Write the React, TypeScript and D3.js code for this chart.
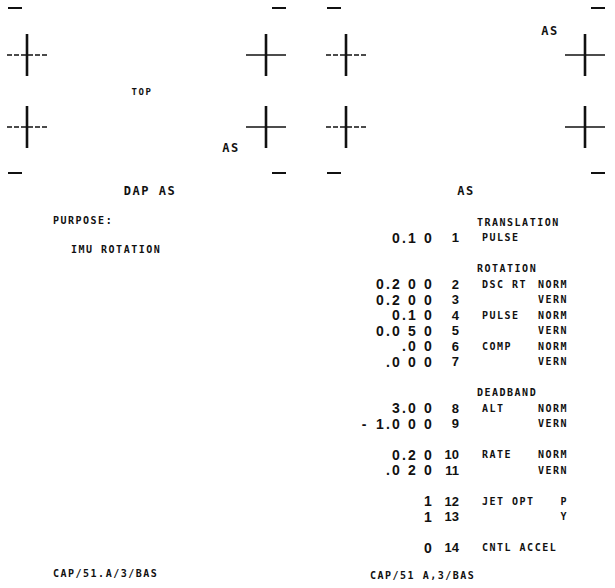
import * as d3 from 'd3'

// register listing
const rowNumbers = [1, 2, 3, 4, 5, 6, 7, 8, 9, 10, 11, 12, 13, 14]
const rowValues = ['0.10', '0.200', '0.200', '0.10', '0.050', '.00', '.000', '3.00', '-1.000', '0.20', '.020', '1', '1', '0']
const rowLabels = ['PULSE', 'DSC RT', '', 'PULSE', '', 'COMP', '', 'ALT', '', 'RATE', '', 'JET OPT', '', 'CNTL ACCEL']
const rowModes = ['', 'NORM', 'VERN', 'NORM', 'VERN', 'NORM', 'VERN', 'NORM', 'VERN', 'NORM', 'VERN', 'P', 'Y', '']
const groupHeaders = ['TRANSLATION', 'ROTATION', 'DEADBAND', '', '', '']
const groupSizes = [1, 6, 2, 2, 2, 1]

const panelTitles = ['DAP AS', 'AS']
const panelMarks = ['AS', 'AS']
const footers = ['CAP/51.A/3/BAS', 'CAP/51 A,3/BAS']
const purposeLines = ['PURPOSE:', 'IMU ROTATION']

const W = 615
const H = 588
const ink = '#111'
const mono = "'DejaVu Sans Mono', monospace"
const narrow = "'Liberation Sans Narrow', 'Liberation Sans', sans-serif"

// layout scales
const panelX = d3.scaleOrdinal<number, number>().domain([0, 1]).range([0, 319])
const colX = d3.scaleOrdinal<number, number>().domain([0, 1]).range([27, 266])
const crossY = d3.scaleOrdinal<number, number>().domain([0, 1]).range([55, 127])
const lineY = d3.scaleLinear().domain([0, 1]).range([222, 237.5])
const digitX = d3.scaleLinear().domain([0, 1]).range([428, 412])

function layoutRows() {
  let line = 0
  let r = 0
  const headers: {text: string, line: number}[] = []
  const rows: {i: number, line: number}[] = []
  groupSizes.forEach((n, gi) => {
    if (gi > 0) line += 1
    if (groupHeaders[gi]) {
      headers.push({text: groupHeaders[gi], line: line})
      line++
    }
    for (let k = 0; k < n; k++) {
      rows.push({i: r++, line: line++})
    }
  })
  return {headers, rows, end: line}
}

// digits sit on a fixed column grid, the point is squeezed in between
function glyphs(v: string) {
  const digits = v.split('').filter(c => c !== '.')
  let col = digits.length - 1
  const out: {ch: string, col: number}[] = []
  v.split('').forEach(ch => {
    if (ch === '.') out.push({ch, col: col + 0.5})
    else {
      out.push({ch, col})
      col--
    }
  })
  return out
}

function Cross({cx, cy, side}: {cx: number, cy: number, side: number}) {
  return (
    <g stroke={ink}>
      <line x1={cx} x2={cx} y1={cy - 21} y2={cy + 21} strokeWidth={2.6} />
      <line x1={cx - 20} x2={cx + 20} y1={cy} y2={cy} strokeWidth={1.4}
            strokeDasharray={side === 0 ? '5 2' : undefined} />
    </g>
  )
}

const label = (x: number, y: number, t: string, anchor = 'start', size = 10) => (
  <text key={t + x + y} x={x} y={y} dy="0.35em" textAnchor={anchor} fontFamily={mono}
        fontWeight="bold" fontSize={size} letterSpacing={1.5} fill={ink}>{t}</text>
)

export default function App() {
  const {headers, rows, end} = layoutRows()

  return (
    <svg width={W} height={H} style={{position: 'absolute', left: 0, top: 0, background: 'white'}}>
      <rect width={W} height={H} fill="white" />

      {/* crosshair panels */}
      {[0, 1].map(p => (
        <g key={'p' + p}>
          {[0, 1].map(c => {
            const cx = panelX(p) + colX(c)
            const dx = c === 0 ? [-19, -5] : [6, 20]
            return (
              <g key={c}>
                {[0, 1].map(r => <Cross key={r} cx={cx} cy={crossY(r)} side={c} />)}
                {[8, 173].map(y => (
                  <line key={y} x1={cx + dx[0]} x2={cx + dx[1]} y1={y} y2={y} stroke={ink} strokeWidth={2} />
                ))}
              </g>
            )
          })}
          {label(panelX(p) + 150 - p * 3, lineY(-2), panelTitles[p], 'middle', 12)}
        </g>
      ))}
      {label(142, 92, 'TOP', 'middle', 9)}
      {label(panelX(0) + colX(1) - 35, crossY(1) + 21, panelMarks[0], 'middle', 12)}
      {label(panelX(1) + colX(1) - 35, crossY(0) - 24, panelMarks[1], 'middle', 12)}

      {/* left page text */}
      {label(53, lineY(-0.1), purposeLines[0])}
      {label(71, lineY(1.8), purposeLines[1])}
      {label(53, lineY(end + 0.7), footers[0])}

      {/* right page listing */}
      {headers.map(h => label(477, lineY(h.line), h.text))}
      {rows.map(({i, line}) => {
        const y = lineY(line)
        return (
          <g key={'r' + i}>
            <text y={y + 5} textAnchor="middle" fontFamily={narrow} fontWeight="bold"
                  fontSize={14} fill={ink}>
              {glyphs(rowValues[i]).map((g, k) => (
                <tspan key={k} x={digitX(g.col)} y={y + 5}>{g.ch}</tspan>
              ))}
            </text>
            <text x={459} y={y} dy="0.35em" textAnchor="end" fontFamily={narrow}
                  fontWeight="bold" fontSize={13} fill={ink}>{rowNumbers[i]}</text>
            {rowLabels[i] && label(482, y, rowLabels[i])}
            {rowModes[i] && label(568, y, rowModes[i], 'end')}
          </g>
        )
      })}
      {label(370, lineY(end + 0.8), footers[1])}
    </svg>
  )
}
